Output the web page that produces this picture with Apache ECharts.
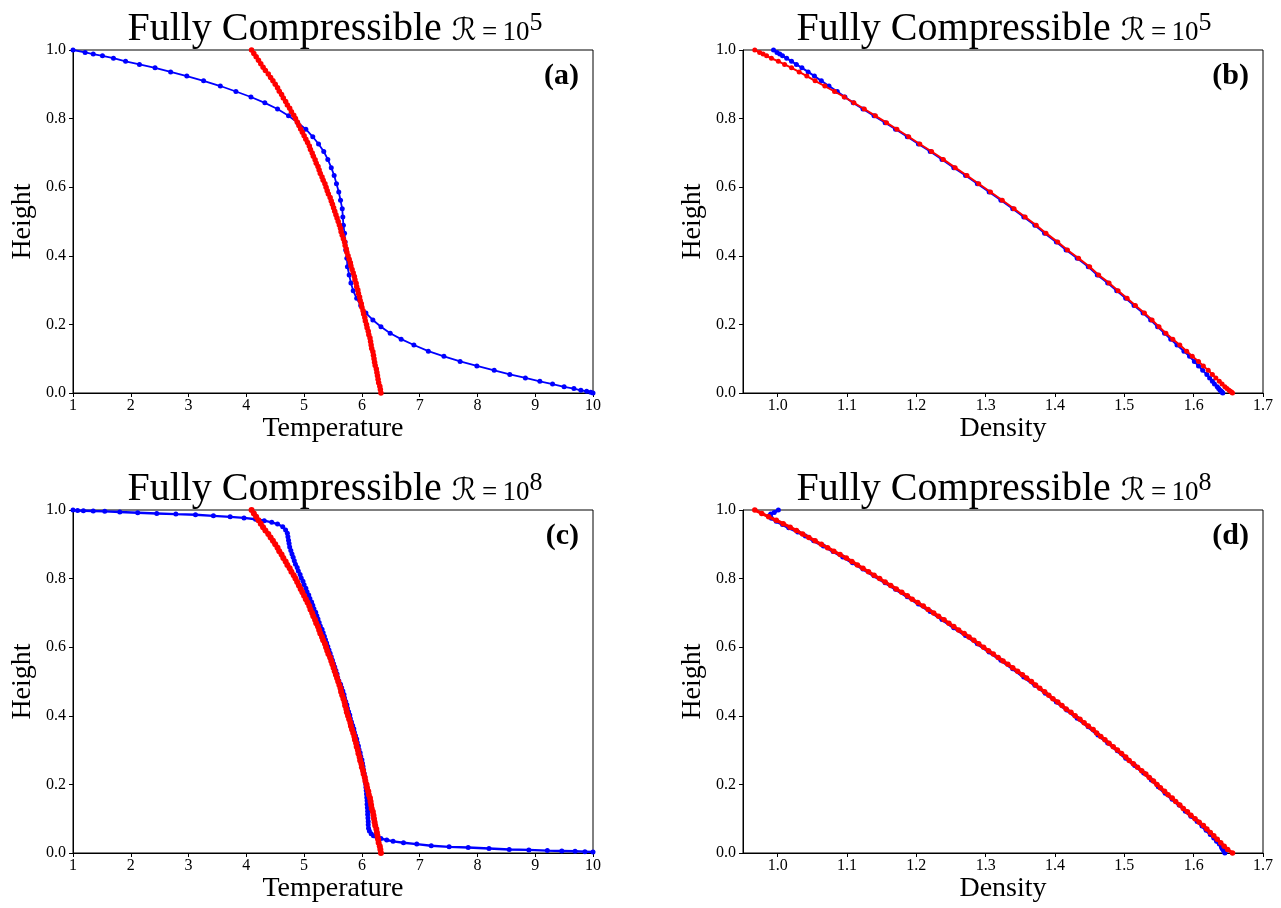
<!DOCTYPE html>
<html>
<head>
<meta charset="utf-8">
<script src="https://cdn.jsdelivr.net/npm/echarts@6/dist/echarts.min.js"></script>
<style>
html,body{margin:0;padding:0;background:#ffffff;}
#chart{width:1281px;height:908px;}
</style>
</head>
<body>
<div id="chart"></div>
<script>
// ---------- DATA ----------
// Height grid used by most simulated profiles (non-uniform, dense at the ends)
const heightGrid62 = [1.000,0.993,0.988,0.983,0.976,0.967,0.958,0.948,0.936,0.924,0.910,0.895,0.879,0.863,0.846,0.828,0.808,0.788,0.769,0.747,0.726,0.704,0.681,0.657,0.634,0.610,0.586,0.562,0.537,0.513,0.489,0.466,0.440,0.417,0.393,0.368,0.344,0.321,0.298,0.276,0.255,0.233,0.213,0.193,0.174,0.157,0.140,0.122,0.107,0.092,0.079,0.066,0.054,0.044,0.034,0.026,0.018,0.013,0.008,0.005,0.002,0.000];

// Dense height grid used by the red reference profiles
const heightGrid101 = [1.00,0.99,0.98,0.97,0.96,0.95,0.94,0.93,0.92,0.91,0.90,0.89,0.88,0.87,0.86,0.85,0.84,0.83,0.82,0.81,0.80,0.79,0.78,0.77,0.76,0.75,0.74,0.73,0.72,0.71,0.70,0.69,0.68,0.67,0.66,0.65,0.64,0.63,0.62,0.61,0.60,0.59,0.58,0.57,0.56,0.55,0.54,0.53,0.52,0.51,0.50,0.49,0.48,0.47,0.46,0.45,0.44,0.43,0.42,0.41,0.40,0.39,0.38,0.37,0.36,0.35,0.34,0.33,0.32,0.31,0.30,0.29,0.28,0.27,0.26,0.25,0.24,0.23,0.22,0.21,0.20,0.19,0.18,0.17,0.16,0.15,0.14,0.13,0.12,0.11,0.10,0.09,0.08,0.07,0.06,0.05,0.04,0.03,0.02,0.01,0.00];

// (a) blue temperature on heightGrid62
const tempBlueA = [1.00,1.21,1.35,1.51,1.70,1.91,2.15,2.42,2.69,2.97,3.26,3.55,3.82,4.08,4.32,4.54,4.73,4.89,5.03,5.15,5.25,5.34,5.41,5.47,5.52,5.56,5.60,5.63,5.66,5.67,5.68,5.70,5.71,5.72,5.74,5.75,5.78,5.81,5.85,5.91,5.98,6.07,6.19,6.33,6.49,6.68,6.90,7.15,7.42,7.70,7.99,8.29,8.56,8.83,9.08,9.30,9.50,9.67,9.79,9.89,9.96,10.00];

// (a) and (c) red temperature on heightGrid101
const tempRed = [4.09,4.13,4.17,4.21,4.25,4.29,4.33,4.38,4.42,4.46,4.50,4.54,4.57,4.61,4.64,4.68,4.71,4.75,4.78,4.82,4.85,4.88,4.91,4.94,4.97,5.00,5.03,5.06,5.09,5.11,5.14,5.16,5.19,5.21,5.24,5.26,5.28,5.31,5.33,5.36,5.38,5.40,5.42,5.45,5.47,5.49,5.51,5.53,5.55,5.57,5.59,5.61,5.63,5.64,5.66,5.68,5.70,5.71,5.73,5.74,5.76,5.78,5.80,5.81,5.83,5.85,5.87,5.88,5.90,5.91,5.93,5.94,5.96,5.97,5.99,6.00,6.02,6.03,6.05,6.06,6.08,6.09,6.11,6.12,6.14,6.15,6.16,6.17,6.19,6.20,6.21,6.22,6.23,6.25,6.26,6.27,6.28,6.29,6.31,6.32,6.33];

// (b) density on heightGrid62
const densBlueB = [0.994,0.999,1.003,1.007,1.013,1.020,1.027,1.035,1.044,1.053,1.063,1.074,1.086,1.097,1.109,1.123,1.139,1.155,1.170,1.187,1.203,1.220,1.237,1.254,1.271,1.288,1.305,1.322,1.339,1.355,1.371,1.385,1.402,1.416,1.432,1.448,1.461,1.476,1.489,1.502,1.514,1.527,1.538,1.548,1.558,1.567,1.576,1.586,1.594,1.601,1.607,1.613,1.619,1.623,1.627,1.630,1.634,1.636,1.638,1.640,1.641,1.642];
const densRedB = [0.967,0.974,0.979,0.984,0.991,1.001,1.010,1.020,1.031,1.042,1.054,1.068,1.082,1.096,1.110,1.125,1.141,1.157,1.172,1.189,1.205,1.222,1.239,1.256,1.273,1.290,1.307,1.324,1.341,1.357,1.373,1.387,1.404,1.418,1.434,1.450,1.463,1.478,1.491,1.504,1.516,1.529,1.540,1.550,1.560,1.570,1.580,1.590,1.598,1.607,1.614,1.621,1.627,1.632,1.637,1.641,1.645,1.648,1.651,1.653,1.655,1.656];

// (c) blue temperature with its own height samples
const tempBlueC = [1.00,1.08,1.18,1.35,1.55,1.81,2.12,2.45,2.78,3.12,3.43,3.72,3.96,4.16,4.31,4.44,4.54,4.63,4.68,4.71,4.72,4.73,4.74,4.75,4.77,4.79,4.81,4.83,4.85,4.88,4.90,4.93,4.95,4.98,5.00,5.03,5.05,5.08,5.10,5.13,5.15,5.17,5.20,5.22,5.24,5.26,5.28,5.31,5.33,5.35,5.37,5.39,5.41,5.43,5.45,5.47,5.49,5.51,5.53,5.55,5.57,5.58,5.60,5.63,5.65,5.67,5.69,5.70,5.72,5.74,5.75,5.77,5.79,5.80,5.82,5.84,5.86,5.87,5.89,5.91,5.92,5.94,5.95,5.97,5.98,6.00,6.01,6.02,6.03,6.04,6.05,6.06,6.065,6.07,6.075,6.08,6.085,6.09,6.09,6.095,6.10,6.10,6.105,6.11,6.11,6.115,6.13,6.16,6.20,6.26,6.33,6.43,6.54,6.72,6.95,7.20,7.51,7.84,8.20,8.55,8.89,9.21,9.46,9.69,9.86,10.00];
const heightBlueC = [1.000,0.9985,0.998,0.997,0.996,0.994,0.992,0.990,0.988,0.986,0.983,0.980,0.977,0.973,0.969,0.964,0.959,0.951,0.942,0.932,0.922,0.912,0.902,0.892,0.882,0.872,0.862,0.852,0.842,0.832,0.822,0.812,0.802,0.792,0.782,0.772,0.762,0.752,0.742,0.732,0.722,0.712,0.702,0.692,0.682,0.672,0.662,0.652,0.642,0.632,0.622,0.612,0.602,0.592,0.582,0.572,0.562,0.552,0.542,0.532,0.522,0.512,0.502,0.492,0.482,0.472,0.462,0.452,0.442,0.432,0.422,0.412,0.402,0.392,0.382,0.372,0.362,0.352,0.342,0.332,0.322,0.312,0.302,0.292,0.282,0.272,0.262,0.252,0.242,0.232,0.222,0.212,0.202,0.192,0.182,0.172,0.162,0.152,0.142,0.132,0.122,0.112,0.102,0.092,0.082,0.072,0.064,0.056,0.050,0.046,0.042,0.038,0.034,0.030,0.026,0.021,0.018,0.016,0.013,0.010,0.009,0.007,0.006,0.005,0.004,0.003];

// (d) blue density on heightGrid62, red density on heightGrid101
const densBlueD = [1.001,0.995,0.990,0.988,0.991,0.998,1.007,1.016,1.029,1.040,1.052,1.066,1.080,1.094,1.108,1.123,1.139,1.155,1.170,1.187,1.203,1.220,1.237,1.254,1.271,1.288,1.305,1.322,1.339,1.355,1.371,1.386,1.402,1.417,1.432,1.448,1.462,1.476,1.490,1.502,1.515,1.528,1.539,1.549,1.559,1.569,1.579,1.588,1.596,1.605,1.612,1.618,1.624,1.629,1.633,1.637,1.640,1.641,1.643,1.644,1.645,1.645];
const densRedD = [0.967,0.977,0.987,0.998,1.008,1.018,1.027,1.036,1.045,1.054,1.063,1.072,1.081,1.090,1.099,1.107,1.115,1.123,1.131,1.139,1.147,1.155,1.163,1.171,1.179,1.187,1.194,1.202,1.210,1.217,1.225,1.232,1.240,1.247,1.254,1.261,1.269,1.276,1.283,1.290,1.297,1.304,1.311,1.318,1.325,1.332,1.339,1.346,1.353,1.359,1.366,1.372,1.378,1.385,1.391,1.397,1.404,1.410,1.416,1.423,1.429,1.436,1.442,1.448,1.455,1.460,1.466,1.472,1.478,1.484,1.490,1.496,1.502,1.507,1.513,1.519,1.525,1.531,1.536,1.542,1.547,1.552,1.558,1.563,1.569,1.574,1.580,1.585,1.591,1.596,1.602,1.608,1.614,1.619,1.624,1.629,1.634,1.639,1.644,1.649,1.656];

// Tick values
const tempTicks = [1,2,3,4,5,6,7,8,9,10];
const densTicks = [1.0,1.1,1.2,1.3,1.4,1.5,1.6,1.7];
const heightTicks = [0.0,0.2,0.4,0.6,0.8,1.0];

// Text
const panelLetters = ['(a)','(b)','(c)','(d)'];
const rayleighExponents = ['5','5','8','8'];
const xNames = ['Temperature','Density','Temperature','Density'];
const yName = 'Height';

// ---------- CHART ----------
const SERIF = "'Liberation Serif','DejaVu Serif',serif";
const zip = (xs, ys) => xs.map((x, i) => [x, ys[i]]);

const grids = [
  {left: 73, top: 50, width: 520, height: 343},
  {left: 743, top: 50, width: 520, height: 343},
  {left: 73, top: 510, width: 520, height: 343},
  {left: 743, top: 510, width: 520, height: 343}
];

function xAxisCfg(i) {
  const isTemp = (i % 2 === 0);
  const ticks = isTemp ? tempTicks : densTicks;
  return {
    gridIndex: i, type: 'value',
    min: isTemp ? 1 : 0.95, max: isTemp ? 10 : 1.7,
    name: xNames[i], nameLocation: 'middle', nameGap: 22,
    nameTextStyle: {fontFamily: SERIF, fontSize: 28, color: '#000', verticalAlign: 'top'},
    axisLine: {show: true, onZero: false, lineStyle: {color: '#000', width: 1}},
    axisTick: {show: true, inside: false, length: 4, lineStyle: {color: '#000', width: 1}, customValues: ticks},
    axisLabel: {show: true, color: '#000', fontFamily: SERIF, fontSize: 16, margin: 5,
      customValues: ticks, formatter: v => isTemp ? String(Math.round(v)) : Number(v).toFixed(1)},
    splitLine: {show: false}
  };
}
function yAxisCfg(i) {
  return {
    gridIndex: i, type: 'value', min: 0, max: 1,
    name: yName, nameLocation: 'middle', nameGap: 36,
    nameTextStyle: {fontFamily: SERIF, fontSize: 28, color: '#000'},
    axisLine: {show: true, onZero: false, lineStyle: {color: '#000', width: 1}},
    axisTick: {show: true, inside: false, length: 4, lineStyle: {color: '#000', width: 1}, customValues: heightTicks},
    axisLabel: {show: true, color: '#000', fontFamily: SERIF, fontSize: 16, margin: 7,
      customValues: heightTicks, formatter: v => Number(v).toFixed(1)},
    splitLine: {show: false}
  };
}

function line(i, data, color, lw, sym, z) {
  return {
    type: 'line', xAxisIndex: i, yAxisIndex: i, data: data,
    symbol: 'circle', symbolSize: sym, showSymbol: true, showAllSymbol: true,
    lineStyle: {color: color, width: lw}, itemStyle: {color: color, borderWidth: 0},
    clip: true, silent: true, animation: false, z: z, emphasis: {disabled: true}
  };
}

const series = [
  line(0, zip(tempBlueA, heightGrid62), '#0000ff', 1.8, 5, 2),
  line(0, zip(tempRed, heightGrid101), '#ff0000', 2.4, 5.5, 3),
  line(1, zip(densBlueB, heightGrid62), '#0000ff', 2, 5, 2),
  line(1, zip(densRedB, heightGrid62), '#ff0000', 2, 5, 3),
  line(2, zip(tempBlueC, heightBlueC), '#0000ff', 2.4, 5, 2),
  line(2, zip(tempRed, heightGrid101), '#ff0000', 4, 6, 3),
  line(3, zip(densBlueD, heightGrid62), '#0000ff', 3, 5, 2),
  line(3, zip(densRedD, heightGrid101), '#ff0000', 3.2, 5.5, 3)
];

const titleRich = {
  a: {fontFamily: SERIF, fontWeight: 'normal', fontSize: 40, color: '#000', lineHeight: 46, verticalAlign: 'bottom'},
  r: {fontFamily: "'DejaVu Serif','DejaVu Sans',serif", fontWeight: 'normal', fontStyle: 'italic', fontSize: 31, color: '#000', lineHeight: 46, verticalAlign: 'bottom', padding: [0, 0, 2, 0]},
  b: {fontFamily: SERIF, fontWeight: 'normal', fontSize: 27, color: '#000', lineHeight: 46, verticalAlign: 'bottom', padding: [0, 0, 3, 0]},
  s: {fontFamily: SERIF, fontWeight: 'normal', fontSize: 26, color: '#000', lineHeight: 46, verticalAlign: 'top', padding: [7, 0, 0, 0]}
};

const titles = [];
const centers = [335, 1004];
for (let i = 0; i < 4; i++) {
  const cx = centers[i % 2];
  const top = i < 2 ? 3 : 463;
  titles.push({
    text: '{a|Fully Compressible }{r|ℛ}{b|\u2009=\u200910}{s|' + rayleighExponents[i] + '}',
    left: cx, top: top, textAlign: 'center', padding: 0,
    textStyle: {fontWeight: 'normal', rich: titleRich}
  });
  titles.push({
    text: panelLetters[i],
    left: (i % 2 === 0) ? 579 : 1249, top: i < 2 ? 61 : 521, textAlign: 'right', padding: 0,
    textStyle: {fontFamily: SERIF, fontSize: 30, fontWeight: 'bold', color: '#000'}
  });
}

const chart = echarts.init(document.getElementById('chart'), null, {renderer: 'canvas'});
chart.setOption({
  backgroundColor: '#ffffff',
  animation: false,
  title: titles,
  grid: grids.map(g => Object.assign({show: true, borderColor: '#000', borderWidth: 1, backgroundColor: 'transparent', containLabel: false}, g)),
  xAxis: [0,1,2,3].map(xAxisCfg),
  yAxis: [0,1,2,3].map(yAxisCfg),
  series: series
});
</script>
</body>
</html>
